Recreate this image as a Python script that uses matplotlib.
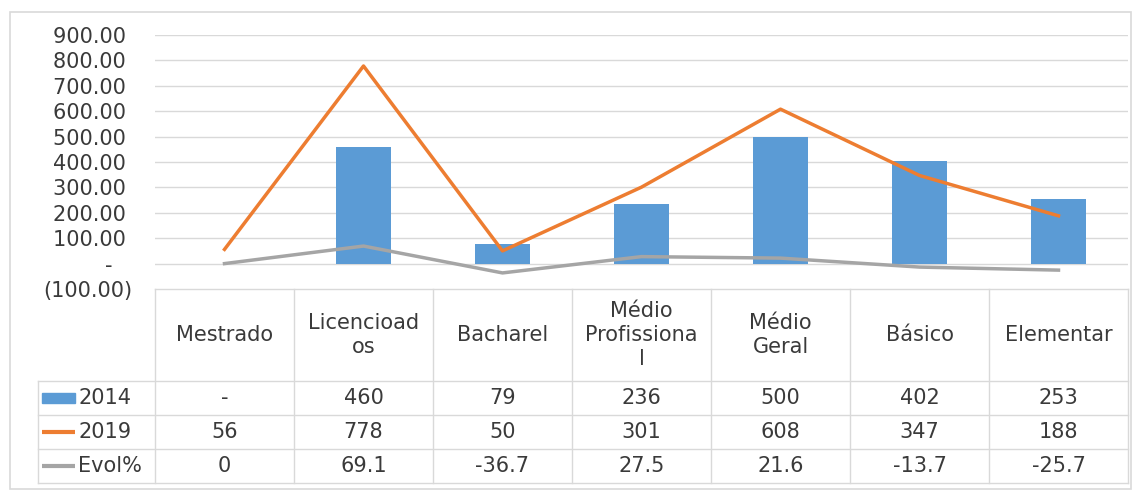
import matplotlib.pyplot as plt
from matplotlib.patches import Rectangle
from matplotlib.ticker import FuncFormatter

# Data
categories = ['Mestrado', 'Licencioad\nos', 'Bacharel', 'Médio\nProfissiona\nl',
              'Médio\nGeral', 'Básico', 'Elementar']
v2014 = [0, 460, 79, 236, 500, 402, 253]
v2019 = [56, 778, 50, 301, 608, 347, 188]
evol = [0, 69.1, -36.7, 27.5, 21.6, -13.7, -25.7]
series_names = ['2014', '2019', 'Evol%']

BLUE = '#5B9BD5'
ORANGE = '#ED7D31'
GRAY = '#A5A5A5'
TXT = '#3A3A3A'
GRID = '#D9D9D9'

W, H = 1133, 491
fig = plt.figure(figsize=(W / 100, H / 100), dpi=100)
plt.rcParams['font.family'] = 'DejaVu Sans'

# outer chart border
fig.patches.append(Rectangle((10 / W, 1 - 489 / H), 1121 / W, 477 / H,
                             transform=fig.transFigure, fill=False,
                             edgecolor=GRID, linewidth=1.2))

# main plot area
ax = fig.add_axes([155 / W, 1 - 289 / H, 973 / W, 254 / H])
x = list(range(len(categories)))
ax.bar(x, v2014, width=0.4, color=BLUE, zorder=3)
ax.plot(x, v2019, color=ORANGE, linewidth=2.5, zorder=4)
ax.plot(x, evol, color=GRAY, linewidth=2.5, zorder=4)
ax.set_xlim(-0.5, len(categories) - 0.5)
ax.set_ylim(-100, 900)
ax.set_yticks(range(-100, 901, 100))


# accounting style labels, like Excel
def acct(v, pos):
    if abs(v) < 1e-9:
        return '-   '
    if v < 0:
        return f'({abs(v):.2f})'
    return f'{v:.2f} '


ax.yaxis.set_major_formatter(FuncFormatter(acct))
ax.tick_params(axis='y', length=0, labelsize=15, labelcolor=TXT, pad=16)
ax.set_xticks([])
for s in ax.spines.values():
    s.set_visible(False)
for yv in range(0, 901, 100):
    ax.axhline(yv, color=GRID, linewidth=1, zorder=1)

# data table below
legend_w = 117 / 139
xl = -0.5 - legend_w
xr = len(categories) - 0.5
tb = fig.add_axes([38 / W, 1 - 483 / H, 1090 / W, 194 / H])
tb.set_xlim(xl, xr)
tb.set_ylim(194, 0)
tb.axis('off')
rows = [0, 92, 126, 160, 194]

# header borders
tb.plot([-0.5, xr], [0, 0], color=GRID, lw=1, clip_on=False)
for i in range(len(categories) + 1):
    tb.plot([i - 0.5, i - 0.5], [0, 194], color=GRID, lw=1, clip_on=False)
tb.plot([xl, xl], [rows[1], 194], color=GRID, lw=1, clip_on=False)
for r in rows[1:]:
    tb.plot([xl, xr], [r, r], color=GRID, lw=1, clip_on=False)

for i, c in enumerate(categories):
    tb.text(i, rows[1] / 2, c, ha='center', va='center', fontsize=15,
            color=TXT, linespacing=1.25)


def fmt_val(v):
    if v == 0:
        return '-'
    return f'{v:g}'


table_rows = [
    [fmt_val(v) for v in v2014],
    [f'{v:g}' for v in v2019],
    [f'{v:g}' for v in evol],
]
colors = [BLUE, ORANGE, GRAY]
for r, (vals, name, col) in enumerate(zip(table_rows, series_names, colors)):
    yc = (rows[r + 1] + rows[r + 2]) / 2
    if r == 0:
        tb.add_patch(Rectangle((xl + 4 / 139, yc - 5), 33 / 139, 10,
                               color=col, clip_on=False))
    else:
        tb.plot([xl + 4 / 139, xl + 37 / 139], [yc, yc], color=col, lw=3,
                solid_capstyle='butt', clip_on=False)
    tb.text(xl + 40 / 139, yc, name, ha='left', va='center', fontsize=15,
            color=TXT)
    for i, t in enumerate(vals):
        tb.text(i, yc, t, ha='center', va='center', fontsize=15, color=TXT)

fig.savefig('out.png', dpi=100)
